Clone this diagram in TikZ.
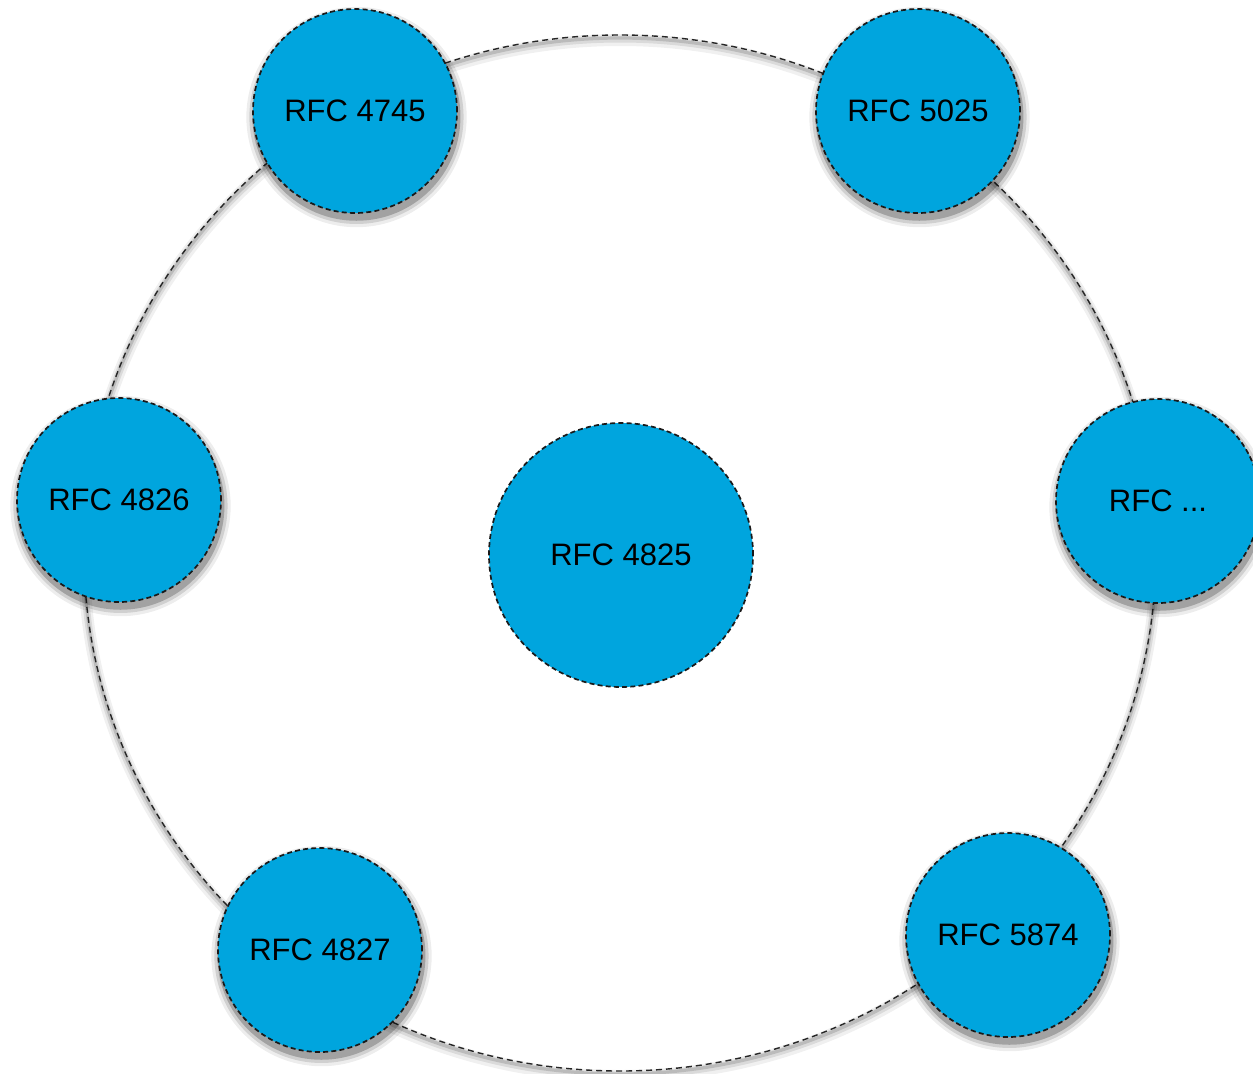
\documentclass[tikz,border=0pt]{standalone}
\usepackage{fontspec}
\setmainfont{Liberation Sans}
\usetikzlibrary{shadows}
\definecolor{rfcblue}{RGB}{0,165,222}
\begin{document}
\begin{tikzpicture}[x=0.5pt,y=-0.5pt,
  rfc/.style={circle, fill=rfcblue, draw=black!90, line width=0.85pt,
    dash pattern=on 2.5pt off 1.6pt, minimum size=102pt, inner sep=0pt,
    font=\fontsize{15.5}{18}\selectfont},
  soft/.style={
    drop shadow={shadow xshift=0.7pt, shadow yshift=-2.8pt, shadow scale=1.08, opacity=.07, fill=black},
    drop shadow={shadow xshift=0.7pt, shadow yshift=-2.8pt, shadow scale=1.05, opacity=.12, fill=black},
    drop shadow={shadow xshift=0.7pt, shadow yshift=-2.8pt, shadow scale=1.02, opacity=.22, fill=black}},
  ringline/.style={draw=black!85, line width=0.7pt, dash pattern=on 3pt off 2pt},
  ringshade/.style={draw=black, opacity=#1}
]
\useasboundingbox[fill=white] (0,0) rectangle (1253,1073);
\clip (0,0) rectangle (1253,1073);
% ring with soft shadow
\draw[ringshade=.06, line width=6pt] (620,558) ellipse [x radius=268pt, y radius=259pt];
\draw[ringshade=.09, line width=3.5pt] (620,557) ellipse [x radius=268pt, y radius=259pt];
\draw[ringshade=.14, line width=1.6pt] (620,556) ellipse [x radius=268pt, y radius=259pt];
\draw[ringline] (620,553) ellipse [x radius=268pt, y radius=259pt];
% nodes
\node[rfc, soft] (r4745) at (355,111) {RFC 4745};
\node[rfc, soft] (r5025) at (918,111) {RFC 5025};
\node[rfc, soft] (r4826) at (119,500) {RFC 4826};
\node[rfc, soft] (rmore) at (1158,501) {RFC ...};
\node[rfc, soft] (r4827) at (320,950) {RFC 4827};
\node[rfc, soft] (r5874) at (1008,935) {RFC 5874};
\node[rfc, minimum size=132pt] (r4825) at (621,555) {RFC 4825};
\end{tikzpicture}
\end{document}
